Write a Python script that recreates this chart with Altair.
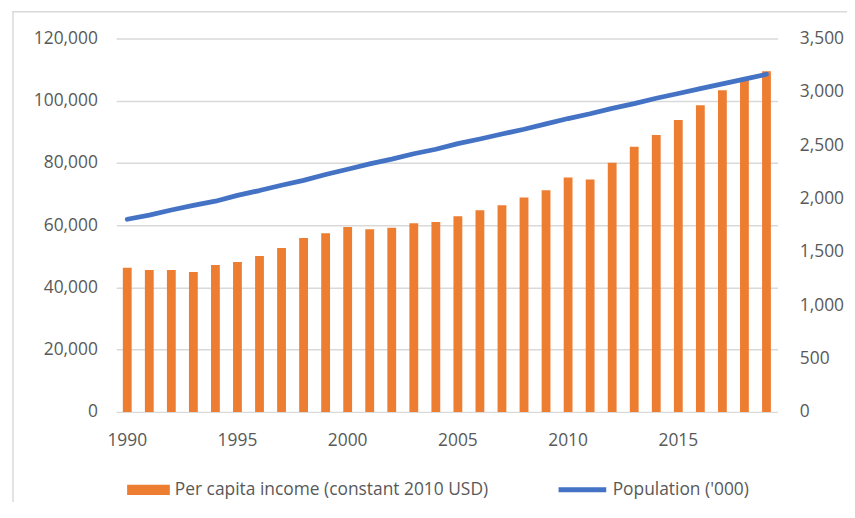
import altair as alt
import pandas as pd

years = list(range(1990, 2020))
income = [46300, 45600, 45600, 45000, 47200, 48200, 50100, 52700, 55900, 57400,
          59400, 58700, 59200, 60600, 61000, 62900, 64800, 66400, 68900, 71200,
          75300, 74700, 80100, 85200, 89000, 93800, 98600, 103400, 106900, 109500]
population = [1806, 1845, 1893, 1936, 1975, 2030, 2075, 2125, 2170, 2225,
              2275, 2325, 2370, 2420, 2462, 2515, 2558, 2605, 2650, 2700,
              2750, 2795, 2845, 2890, 2940, 2985, 3030, 3075, 3120, 3165]
income_label = "Per capita income (constant 2010 USD)"
pop_label = "Population ('000)"
x_ticks = [1990, 1995, 2000, 2005, 2010, 2015]
left_ticks = [0, 20000, 40000, 60000, 80000, 100000, 120000]
right_ticks = [0, 500, 1000, 1500, 2000, 2500, 3000, 3500]

df = pd.DataFrame({"year": years, "income": income, "population": population,
                   "s1": income_label, "s2": pop_label})

FONT = "Open Sans"
FS = 17.5
GRAY = "#595959"
GRID = "#d9d9d9"

x = alt.X("year:O",
          scale=alt.Scale(paddingInner=0.6, paddingOuter=0.3),
          axis=alt.Axis(values=x_ticks, labelAngle=0, title=None, ticks=False,
                        domain=False, grid=False, labelPadding=20,
                        labelFont=FONT, labelFontSize=FS, labelColor=GRAY))

border = alt.Chart(pd.DataFrame({"k": [0]})).mark_rect(
    filled=False, stroke=GRID, strokeWidth=1.5
).encode(x=alt.value(-104), x2=alt.value(900), y=alt.value(-27), y2=alt.value(700))

bars = alt.Chart(df).mark_bar().encode(
    x=x,
    y=alt.Y("income:Q", scale=alt.Scale(domain=[0, 120000]),
            axis=alt.Axis(values=left_ticks, format=",.0f", title=None, grid=True,
                          gridColor=GRID, gridWidth=1.5, ticks=False, domain=False,
                          labelPadding=19, labelFont=FONT, labelFontSize=FS,
                          labelColor=GRAY)),
    color=alt.Color("s1:N", scale=alt.Scale(range=["#ED7D31"]),
                    legend=alt.Legend(title=None, orient="none", legendX=11, legendY=433,
                                      symbolType="M-1,-0.24L1,-0.24L1,0.24L-1,0.24Z",
                                      symbolSize=1849, symbolStrokeWidth=0,
                                      labelFont=FONT, labelFontSize=FS, labelColor=GRAY,
                                      labelLimit=0, labelOffset=5, padding=0)),
)

line = alt.Chart(df).mark_line(strokeWidth=4.8, strokeCap="round", strokeJoin="round").encode(
    x=x,
    y=alt.Y("population:Q", scale=alt.Scale(domain=[0, 3500]),
            axis=alt.Axis(orient="right", values=right_ticks, format=",.0f", title=None,
                          grid=False, ticks=False, domain=False, labelPadding=22,
                          labelFont=FONT, labelFontSize=FS, labelColor=GRAY)),
    stroke=alt.Stroke("s2:N", scale=alt.Scale(range=["#4472C4"]),
                      legend=alt.Legend(title=None, orient="none", legendX=443, legendY=428,
                                        symbolType="stroke", symbolSize=2304,
                                        symbolStrokeWidth=5,
                                        labelFont=FONT, labelFontSize=FS, labelColor=GRAY,
                                        labelLimit=0, labelOffset=4, padding=0)),
)

chart = alt.layer(border, bars, line).resolve_scale(
    y="independent", color="independent", stroke="independent"
).properties(
    width=666, height=376, autosize="none",
    padding={"left": 109, "top": 29, "right": 70, "bottom": 89},
    background="white",
).configure_view(stroke=None)

chart.save("out.html", embed_options={"renderer": "svg", "actions": False})
